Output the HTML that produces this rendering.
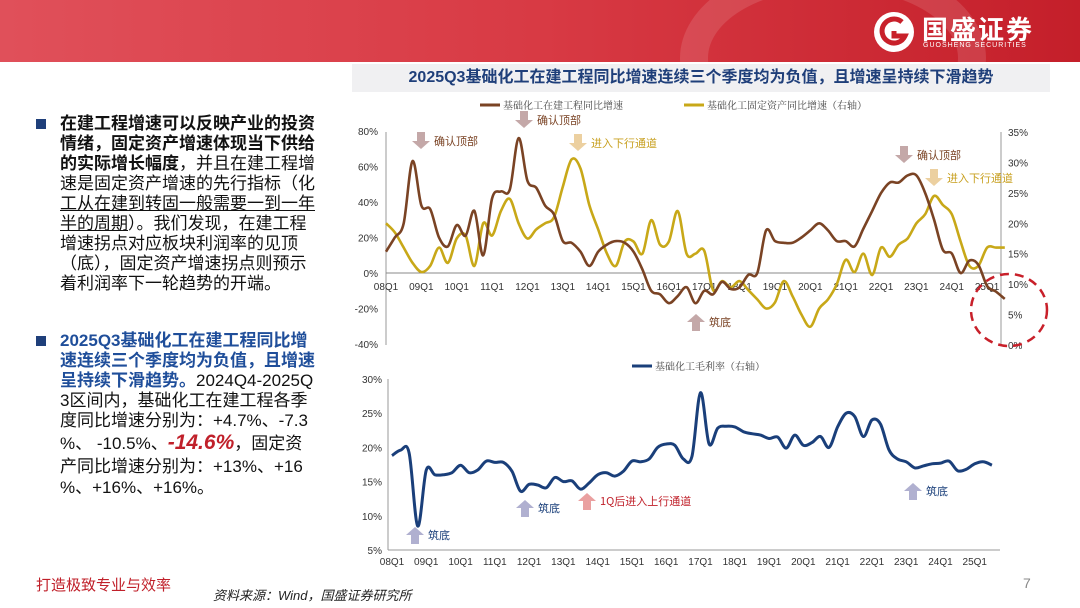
<!DOCTYPE html>
<html><head><meta charset="utf-8">
<style>
body{margin:0;width:1080px;height:608px;overflow:hidden;background:#fff;font-family:"Liberation Sans","Noto Sans CJK SC",sans-serif;position:relative}
.hdr{position:absolute;left:0;top:0;width:1080px;height:62px;background:linear-gradient(90deg,#e0505a 0%,#d83a44 50%,#c41f2a 100%);overflow:hidden}
.ttl{position:absolute;left:352px;top:64px;width:698px;height:28px;background:#f0f0f2;color:#1f3f7a;font-weight:bold;font-size:16px;line-height:28px;text-align:center}
.ln{position:absolute;left:60px;font-size:17px;line-height:20px;color:#111;white-space:nowrap}
.b{font-weight:bold}
.bl{color:#1f4e9a;font-weight:bold}
.bul{position:absolute;left:36px;width:10px;height:10px;background:#1f3f7a}
</style></head><body>
<div class="hdr">
  <div style="position:absolute;left:680px;top:-40px;width:250px;height:140px;border-radius:50%;border:28px solid rgba(255,255,255,0.12)"></div>
  <svg style="position:absolute;left:872px;top:10px" width="44" height="44" viewBox="0 0 44 44"><circle cx="22" cy="22" r="20" fill="#fff"/><path d="M30 12 A12 12 0 1 0 33 26 L22 26 L22 21" stroke="#c8202a" stroke-width="5" fill="none"/></svg>
  <div style="position:absolute;left:922px;top:10px;color:#fff;font-size:26px;font-weight:bold;letter-spacing:2px">国盛证券</div>
  <div style="position:absolute;left:923px;top:42px;color:#fff;font-size:7px;letter-spacing:1px">GUOSHENG SECURITIES</div>
</div>
<div class="ttl">2025Q3基础化工在建工程同比增速连续三个季度均为负值，且增速呈持续下滑趋势</div>

<div class="bul" style="top:119px"></div>
<div>
<div class="ln b" style="top:114px">在建工程增速可以反映产业的投资</div>
<div class="ln b" style="top:134px">情绪，固定资产增速体现当下供给</div>
<div class="ln" style="top:154px"><span class="b">的实际增长幅度</span>，并且在建工程增</div>
<div class="ln" style="top:174px">速是固定资产增速的先行指标（化</div>
<div class="ln" style="top:194px;text-decoration:underline">工从在建到转固一般需要一到一年</div>
<div class="ln" style="top:214px"><u>半的周期</u>）。我们发现，在建工程</div>
<div class="ln" style="top:234px">增速拐点对应板块利润率的见顶</div>
<div class="ln" style="top:254px">（底），固定资产增速拐点则预示</div>
<div class="ln" style="top:274px">着利润率下一轮趋势的开端。</div>
</div>
<div class="bul" style="top:336px"></div>
<div>
<div class="ln bl" style="top:331px">2025Q3基础化工在建工程同比增</div>
<div class="ln bl" style="top:351px">速连续三个季度均为负值，且增速</div>
<div class="ln" style="top:371px"><span class="bl">呈持续下滑趋势。</span>2024Q4-2025Q</div>
<div class="ln" style="top:391px">3区间内，基础化工在建工程各季</div>
<div class="ln" style="top:411px">度同比增速分别为：+4.7%、-7.3</div>
<div class="ln" style="top:433px">%、 -10.5%、<span style="color:#c0202a;font-weight:bold;font-style:italic;font-size:21px">-14.6%</span>，固定资</div>
<div class="ln" style="top:457px">产同比增速分别为：+13%、+16</div>
<div class="ln" style="top:478px">%、+16%、+16%。</div>
</div>

<div style="position:absolute;left:36px;top:574px;color:#c0202a;font-size:15px">打造极致专业与效率</div>
<div style="position:absolute;left:213px;top:585px;font-size:13px;font-style:italic;color:#222">资料来源：Wind，国盛证券研究所</div>
<div style="position:absolute;left:1023px;top:575px;font-size:14px;color:#888">7</div>

<svg id="chart" style="position:absolute;left:0;top:0" width="1080" height="608"></svg>
<script>
const quarters=[];for(let y=8;y<=25;y++)for(let q=1;q<=4;q++)quarters.push((y<10?'0':'')+y+'Q'+q);
const qCount=71;
const cipGrowth=[12,20,28,63,38,36,20,15,27,21,35,10,42,46,47,76,52,48,38,33,18,17,12,4,12,16,18,17,12,2,-10,-12,-17,-13,-8,-17,-10,-12,-5,-9,-8,-1,0,24,18,17,17,20,24,28,24,18,18,15,25,35,45,51,51,55,55,45,30,13,11,0,7,4.7,-7.3,-10.5,-14.6];
const fixedAssetGrowth=[20,18.5,16,13.5,12,13,16,13.5,17.5,18,13,20,18,22,24,20,17.5,19,20,21,26,30.5,29,23,19,15,13,17,17,15,20.5,16.5,17,22,15,15,15.5,9,10.5,9.5,10.5,9,7.5,6,7,10.5,8,5,3,6,7.5,10,14,12,15,11.5,16,14.5,16.5,17.5,20,21.5,24.5,23,21.5,17,13,13,16,16,16];
const grossMargin=[18.8,19.6,19.2,8.5,16.7,16,16,16.3,17.4,16.3,16.7,18,17.8,17.8,16.5,13.6,14.6,14.5,14.1,15.6,15,15.1,13.9,14.8,16,16.3,15.8,16.5,18,17.9,18.3,20,20.5,20.3,18.3,18.7,28,20.5,22.8,23.1,23,22.3,22,21.8,21.3,21.5,19.9,21.8,20.3,20.7,21.6,20,23,25,24.5,21.6,24,23.4,19.6,18.3,17.9,17,17.3,17.6,17.7,18,16.6,16.8,17.6,17.9,17.4];
const leftTicks=[80,60,40,20,0,-20,-40];
const rightTicks=[35,30,25,20,15,10,5,0];
const bottomTicks=[30,25,20,15,10,5];

const NS='http://www.w3.org/2000/svg';const svg=document.getElementById('chart');
function mk(t,a,p){const e=document.createElementNS(NS,t);for(const k in a)e.setAttribute(k,a[k]);(p||svg).appendChild(e);return e;}
const xT=i=>386+i*8.84, yL=v=>273-v*1.775, yR=v=>345-v*6.086;
const xB=i=>392+i*8.57, yB=v=>550-(v-5)*6.84;
function smooth(pts){let d='M'+pts[0][0].toFixed(1)+','+pts[0][1].toFixed(1);for(let i=0;i<pts.length-1;i++){const p0=pts[i-1]||pts[i],p1=pts[i],p2=pts[i+1],p3=pts[i+2]||p2;const c1=[p1[0]+(p2[0]-p0[0])/6,p1[1]+(p2[1]-p0[1])/6],c2=[p2[0]-(p3[0]-p1[0])/6,p2[1]-(p3[1]-p1[1])/6];d+='C'+c1.map(v=>v.toFixed(1))+' '+c2.map(v=>v.toFixed(1))+' '+p2.map(v=>v.toFixed(1));}return d;}
const fs='font-family:"Liberation Sans Narrow","Liberation Sans",sans-serif';
let e;
e=mk('line',{x1:386,y1:132,x2:386,y2:345,stroke:'#999'});
e=mk('line',{x1:1001,y1:132,x2:1001,y2:345,stroke:'#999'});
e=mk('line',{x1:386,y1:yL(0),x2:1001,y2:yL(0),stroke:'#888'});
leftTicks.forEach(v=>{e=mk('text',{x:378,y:yL(v)+4,'text-anchor':'end','font-size':10,fill:'#333',style:fs});e.textContent=v+'%';});
rightTicks.forEach(v=>{e=mk('text',{x:1008,y:yR(v)+4,'font-size':10,fill:'#333',style:fs});e.textContent=v+'%';});
for(let i=0;i<qCount;i+=4){e=mk('text',{x:xT(i),y:290,'text-anchor':'middle','font-size':10,fill:'#333',style:fs});e.textContent=quarters[i];
 e=mk('text',{x:xB(i),y:565,'text-anchor':'middle','font-size':10,fill:'#333',style:fs});e.textContent=quarters[i];}
e=mk('path',{d:smooth(fixedAssetGrowth.map((v,i)=>[xT(i),yR(v)])),fill:'none',stroke:'#c8a818','stroke-width':2.6});
e=mk('path',{d:smooth(cipGrowth.map((v,i)=>[xT(i),yL(v)])),fill:'none',stroke:'#7a4324','stroke-width':2.6});
e=mk('line',{x1:388,y1:379,x2:388,y2:550,stroke:'#999'});
e=mk('line',{x1:388,y1:550,x2:1000,y2:550,stroke:'#999'});
bottomTicks.forEach(v=>{e=mk('text',{x:382,y:yB(v)+4,'text-anchor':'end','font-size':10,fill:'#333',style:fs});e.textContent=v+'%';});
e=mk('path',{d:smooth(grossMargin.map((v,i)=>[xB(i),yB(v)])),fill:'none',stroke:'#1a3f7a','stroke-width':3});
function leg(x,y,c,t,n){const g=mk('g',{});mk('line',{x1:x,y1:y,x2:x+20,y2:y,stroke:c,'stroke-width':3},g);const tx=mk('text',{x:x+23,y:y+4,'font-size':10,fill:'#444',style:'font-family:"Noto Serif CJK SC",serif'},g);tx.textContent=t;}
leg(480,105,'#7a4324','基础化工在建工程同比增速','legend-cip');
leg(684,105,'#c8a818','基础化工固定资产同比增速（右轴）','legend-fixed-asset');
leg(632,366,'#1a3f7a','基础化工毛利率（右轴）','legend-margin');
function arrow(x,y,dir,c,t,tc,n){const g=mk('g',{});const s=dir;const pts=[[x-4,y-9*s],[x+4,y-9*s],[x+4,y],[x+9,y],[x,y+8*s],[x-9,y],[x-4,y]];mk('polygon',{points:pts.map(p=>p.join(',')).join(' '),fill:c},g);const tx=mk('text',{x:x+13,y:y+4,'font-size':11,fill:tc,style:'font-family:"Noto Sans CJK SC",sans-serif'},g);tx.textContent=t;}
arrow(421,141,1,'#c4a8a8','确认顶部','#7a4324','annotation-top-1');
arrow(524,120,1,'#c4a8a8','确认顶部','#7a4324','annotation-top-2');
arrow(578,143,1,'#ecd0a0','进入下行通道','#c8a020','annotation-down-1');
arrow(904,155,1,'#c4a8a8','确认顶部','#7a4324','annotation-top-3');
arrow(934,178,1,'#ecd0a0','进入下行通道','#c8a020','annotation-down-2');
arrow(696,322,-1,'#c4a8a8','筑底','#7a4324','annotation-bottom-1');
arrow(415,535,-1,'#b0b0d0','筑底','#1a3f7a','annotation-margin-1');
arrow(525,508,-1,'#b0b0d0','筑底','#1a3f7a','annotation-margin-2');
arrow(587,501,-1,'#eaa0a0','1Q后进入上行通道','#c0202a','annotation-margin-3');
arrow(913,491,-1,'#b0b0d0','筑底','#1a3f7a','annotation-margin-4');
e=mk('ellipse',{cx:1009,cy:310,rx:38,ry:36,fill:'none',stroke:'#c8202a','stroke-width':2.5,'stroke-dasharray':'9,6'});
</script>
</body></html>
